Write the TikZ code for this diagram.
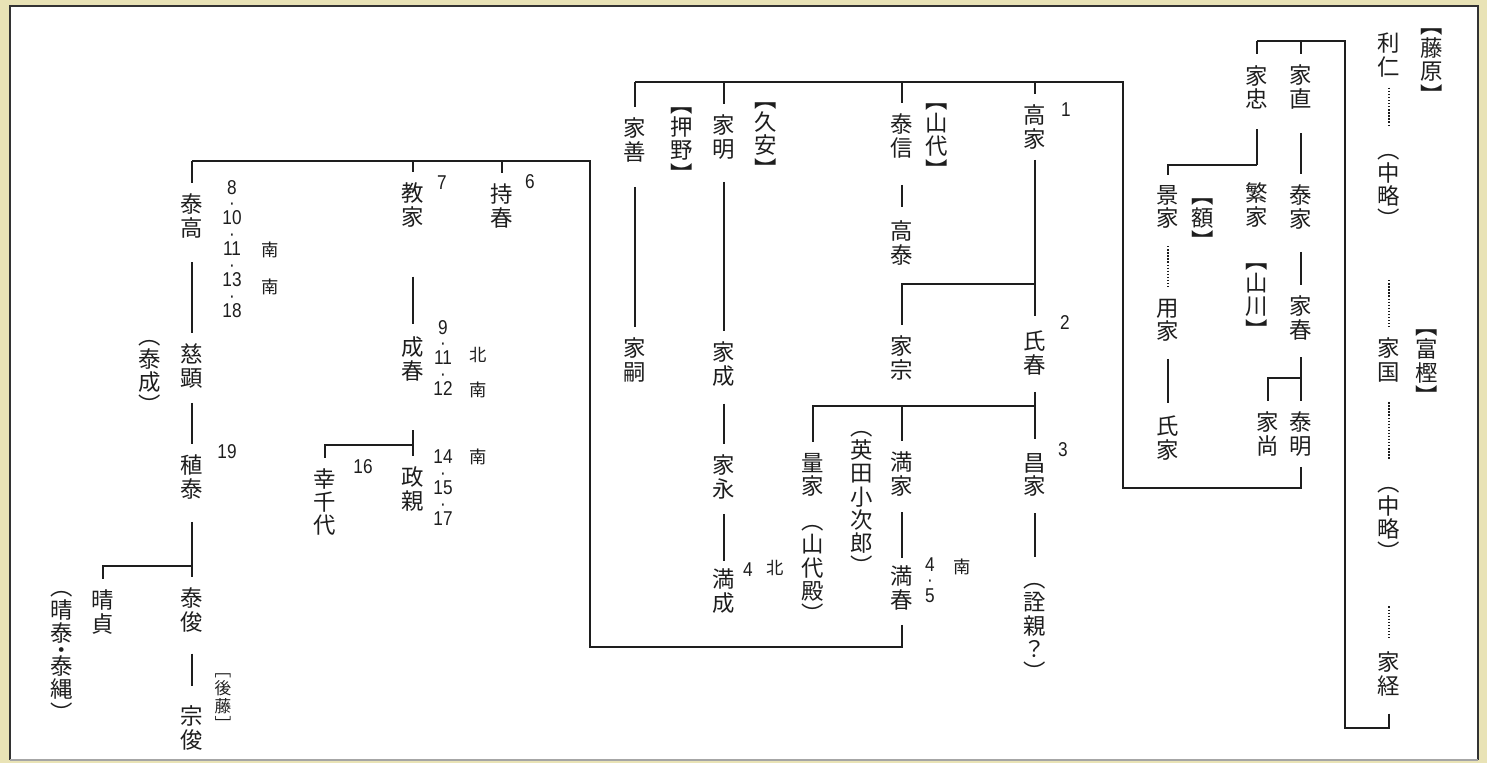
\documentclass[tikz,border=0pt]{standalone}
\usepackage{fontspec}
\newfontfamily\jp{Noto Sans CJK JP}
\newfontfamily\numf[FakeStretch=0.86]{Liberation Sans}
\definecolor{pagebg}{RGB}{233,227,182}
\definecolor{inkc}{RGB}{30,30,30}
\newcommand\fnm{\jp\fontsize{16.8}{17.4}\selectfont\lineskiplimit=-100pt\relax}
\newcommand\fnb{\numf\fontsize{15}{11.6}\selectfont\lineskiplimit=-100pt\relax}
\newcommand\fsm{\jp\fontsize{13}{14}\selectfont}
\newcommand\fgt{\jp\fontsize{12.5}{13.5}\selectfont\lineskiplimit=-100pt\relax}
\tikzset{
  nm/.style={font=\fnm, align=center, inner xsep=1pt, inner ysep=8pt, text=inkc},
  nb/.style={font=\fnb, align=center, inner sep=0pt, text=inkc},
  sm/.style={font=\fsm, inner sep=0pt, text=inkc},
  gt/.style={font=\fgt, align=center, inner sep=0pt, text=inkc},
  ln/.style={line width=1.4pt, draw=inkc},
  dl/.style={line width=1.4pt, draw=inkc, dash pattern=on 1pt off 1.3pt},
}
\begin{document}
\begin{tikzpicture}[x=0.75pt,y=-0.75pt]
\useasboundingbox (0,0) rectangle (1487,763);
\fill[pagebg] (0,0) rectangle (1487,763);
\fill[white] (10,6) rectangle (1478,760);
\draw[line width=2.2pt, draw=black!80] (10,760) -- (10,6) -- (1478,6) -- (1478,760);
\draw[line width=0.8pt, draw=black!35] (10,760) -- (1478,760);

% ---------- right: Fujiwara / Togashi ----------
\node[nm] (fujiwara) at (1432,66) {︻\\藤\\原\\︼};
\node[nm] (toshihito) at (1389,55) {利\\仁};
\node[nm] (chu1) at (1389,191) {︵\\中\\略\\︶};
\node[nm] (iekuni) at (1389,360) {家\\国};
\node[nm] (togashi) at (1427,367) {︻\\富\\樫\\︼};
\node[nm] (chu2) at (1389,524) {︵\\中\\略\\︶};
\node[nm] (ietsune) at (1389,674) {家\\経};

\node[nm] (ienao) at (1301,87) {家\\直};
\node[nm] (ietada) at (1257,87) {家\\忠};
\node[nm] (yasuie) at (1301,207) {泰\\家};
\node[nm] (iehari) at (1301,318) {家\\春};
\node[nm] (yasuaki) at (1301,434) {泰\\明};
\node[nm] (ienao2) at (1268,434) {家\\尚};
\node[nm] (shigeie) at (1257,205) {繁\\家};
\node[nm] (kageie) at (1168,207) {景\\家};
\node[nm] (nuka) at (1203,224) {︻\\額\\︼};
\node[nm] (yamakawa) at (1257,301) {︻\\山\\川\\︼};
\node[nm] (mochiie) at (1168,320) {用\\家};
\node[nm] (ujiie) at (1168,438) {氏\\家};

% ---------- middle ----------
\node[nm] (takaie) at (1035,127) {高\\家};
\node[nb] (n1) at (1066,110) {1};
\node[nm] (yasunobu) at (902,136) {泰\\信};
\node[nm] (yamashiro) at (937,141) {︻\\山\\代\\︼};
\node[nm] (takayasu) at (902,243) {高\\泰};
\node[nm] (iemune) at (902,358) {家\\宗};
\node[nm] (ujiharu) at (1035,353) {氏\\春};
\node[nb] (n2) at (1065,323) {2};
\node[nm] (masaie) at (1035,475) {昌\\家};
\node[nb] (n3) at (1063,450) {3};
\node[nm] (senshin) at (1035,632) {︵\\詮\\親\\？\\︶};
\node[nm] (mitsuie) at (902,474) {満\\家};
\node[nm] (mitsuharu) at (902,588) {満\\春};
\node[nb] (n45) at (930,580) {4\\·\\5};
\node[sm] (s45) at (962,567) {南};
\node[nm] (aida) at (862,503) {︵\\英\\田\\小\\次\\郎\\︶};
\node[nm] (kazuie) at (813,475) {量\\家};
\node[nm] (yamashirodono) at (813,574) {︵\\山\\代\\殿\\︶};

\node[nm] (iezen) at (635,140) {家\\善};
\node[nm] (oshino) at (682,145) {︻\\押\\野\\︼};
\node[nm] (ieaki) at (724,137) {家\\明};
\node[nm] (hisayasu) at (766,140) {︻\\久\\安\\︼};
\node[nm] (ietsugu) at (635,360) {家\\嗣};
\node[nm] (ienari) at (724,364) {家\\成};
\node[nm] (ienaga) at (724,477) {家\\永};
\node[nm] (mitsunari) at (724,591) {満\\成};
\node[nb] (n4b) at (748,570) {4};
\node[sm] (s4b) at (775,568) {北};

% ---------- left ----------
\node[nm] (mochiharu) at (502,206) {持\\春};
\node[nb] (n6) at (530,182) {6};
\node[nm] (norie) at (413,205) {教\\家};
\node[nb] (n7) at (442,183) {7};
\node[nm] (shigeharu) at (413,359) {成\\春};
\node[nb] (n9) at (443,358) {9\\·\\11\\·\\12};
\node[sm] (s9a) at (478,355) {北};
\node[sm] (s9b) at (478,390) {南};
\node[nm] (masachika) at (413,489) {政\\親};
\node[nb] (n14) at (443,488) {14\\·\\15\\·\\17};
\node[sm] (s14) at (478,457) {南};
\node[nm] (kochiyo) at (325,502) {幸\\千\\代};
\node[nb] (n16) at (363,467) {16};

\node[nm] (yasutaka) at (192,216) {泰\\高};
\node[nb] (n8) at (232,249) {8\\·\\10\\·\\11\\·\\13\\·\\18};
\node[sm] (s8a) at (270,250) {南};
\node[sm] (s8b) at (270,287) {南};
\node[nm] (jiken) at (192,366) {慈\\顕};
\node[nm] (yasunari) at (150,377) {︵\\泰\\成\\︶};
\node[nm] (taneyasu) at (192,477) {稙\\泰};
\node[nb] (n19) at (227,452) {19};
\node[nm] (yasutoshi) at (192,610) {泰\\俊};
\node[nm] (harusada) at (103,612) {晴\\貞};
\node[nm] (harusada2) at (62,656) {︵\\晴\\泰\\[-5pt]・\\[-5pt]泰\\縄\\︶};
\node[nm] (munetoshi) at (192,728) {宗\\俊};
\node[gt] (goto) at (223,702) {﹇\\後\\藤\\﹈};

% ---------- junctions ----------
\coordinate (jFr) at (1345,728);
\coordinate (jFt) at (1345,41);
\coordinate (jTada) at (1257,165);
\coordinate (jHaru) at (1301,378);
\coordinate (jR1) at (1123,488);
\coordinate (jR2) at (1123,82);
\coordinate (jTaka) at (1035,284);
\coordinate (jUji) at (1035,406);
\coordinate (jM1) at (590,647);
\coordinate (jM2) at (590,161);
\coordinate (jShige) at (413,445);
\coordinate (jTane) at (192,566);

% ---------- connectors: right ----------
\draw[dl, shorten >=12pt] (toshihito) -- (chu1);
\draw[dl, shorten <=31pt] (chu1) -- (iekuni);
\draw[dl, shorten <=7pt, shorten >=13pt] (iekuni) -- (chu2);
\draw[dl, shorten <=26pt, shorten >=2pt] (chu2) -- (ietsune);
\draw[ln, shorten <=5pt] (ietsune) -- (ietsune |- jFr) -- (jFr) -- (jFt) -- (jFt -| ietada);
\draw[ln] (jFt -| ienao) -- (ienao);
\draw[ln] (jFt -| ietada) -- (ietada);
\draw[ln, shorten <=10pt] (ienao) -- (yasuie);
\draw[ln, shorten <=9pt] (yasuie) -- (iehari);
\draw[ln, shorten <=5pt] (iehari) -- (yasuaki);
\draw[ln] (jHaru) -| (ienao2);
\draw[ln, shorten <=7pt] (ietada) -- (jTada);
\draw[ln] (jTada) -| (kageie);
\draw[dl, shorten <=5pt] (kageie) -- (mochiie);
\draw[ln, shorten <=5pt, shorten >=2pt] (mochiie) -- (ujiie);
\draw[ln] (yasuaki) -- (yasuaki |- jR1) -- (jR1) -- (jR2) -- (jR2 -| iezen);
\draw[ln] (jR2 -| takaie) -- (takaie);
\draw[ln] (jR2 -| yasunobu) -- (yasunobu);
\draw[ln] (jR2 -| ieaki) -- (ieaki);
\draw[ln] (jR2 -| iezen) -- (iezen);

% ---------- connectors: middle ----------
\draw[ln, shorten >=3pt] (takaie) -- (ujiharu);
\draw[ln] (jTaka) -| (iemune);
\draw[ln, shorten <=12pt, shorten >=2pt] (yasunobu) -- (takayasu);
\draw[ln, shorten <=4.5pt, shorten >=3pt] (ujiharu) -- (masaie);
\draw[ln] (jUji) -| (kazuie);
\draw[ln] (jUji -| mitsuie) -- (mitsuie);
\draw[ln, shorten <=4.5pt, shorten >=12pt] (masaie) -- (senshin);
\draw[ln, shorten <=4pt, shorten >=-2pt] (mitsuie) -- (mitsuharu);
\draw[ln, shorten <=3pt] (mitsuharu) -- (mitsuharu |- jM1) -- (jM1) -- (jM2) -- (jM2 -| yasutaka);
\draw[ln] (jM2 -| mochiharu) -- (mochiharu);
\draw[ln] (jM2 -| norie) -- (norie);
\draw[ln] (jM2 -| yasutaka) -- (yasutaka);
\draw[ln, shorten <=10.5pt] (iezen) -- (ietsugu);
\draw[ln, shorten <=9pt] (ieaki) -- (ienari);
\draw[ln, shorten <=5pt] (ienari) -- (ienaga);
\draw[ln, shorten <=3pt, shorten >=-2pt] (ienaga) -- (mitsunari);

% ---------- connectors: left ----------
\draw[ln, shorten <=29pt, shorten >=2pt] (norie) -- (shigeharu);
\draw[ln, shorten <=29pt] (shigeharu) -- (masachika);
\draw[ln] (jShige) -| (kochiyo);
\draw[ln, shorten <=10pt] (yasutaka) -- (jiken);
\draw[ln, shorten <=3pt] (jiken) -- (taneyasu);
\draw[ln, shorten <=9pt] (taneyasu) -- (yasutoshi);
\draw[ln] (jTane) -| (harusada);
\draw[ln, shorten <=8pt, shorten >=7pt] (yasutoshi) -- (munetoshi);
\end{tikzpicture}
\end{document}
